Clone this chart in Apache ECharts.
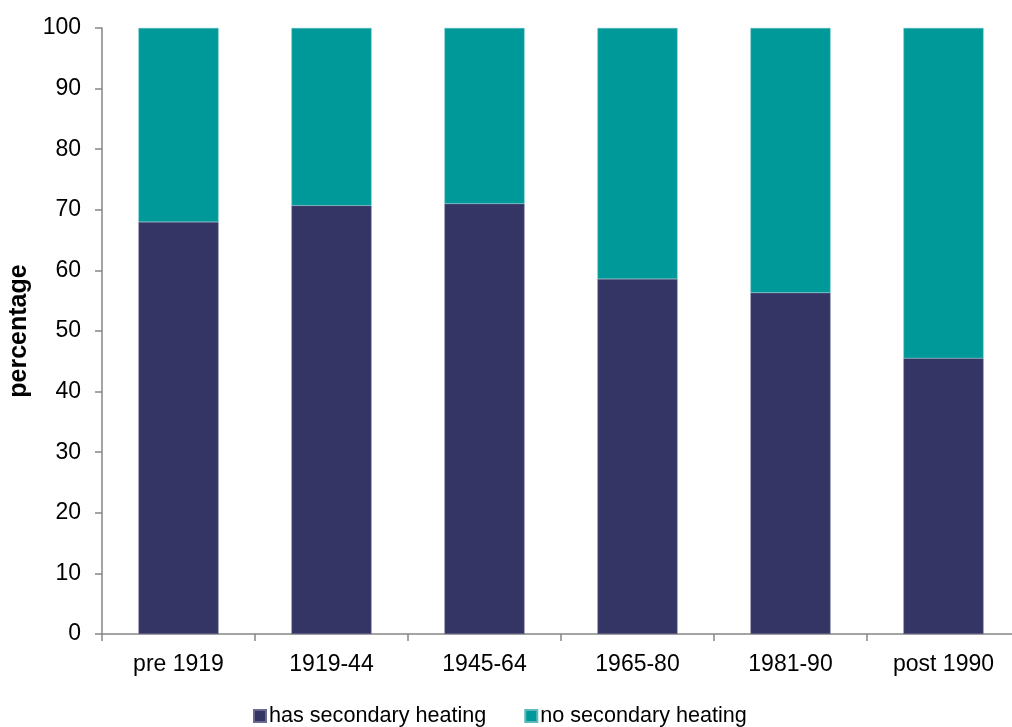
<!DOCTYPE html>
<html><head><meta charset="utf-8">
<script src="https://cdn.jsdelivr.net/npm/echarts@6/dist/echarts.min.js"></script>
<style>html,body{margin:0;padding:0;background:#fff}#c{width:1012px;height:727px}</style>
</head><body><div id="c"></div>
<script>
const categories = ['pre 1919','1919-44','1945-64','1965-80','1981-90','post 1990'];
const hasSecondary = [68.0, 70.7, 71.0, 58.6, 56.3, 45.5];
const noSecondary = [32.0, 29.3, 29.0, 41.4, 43.7, 54.5];
const yTicks = [0,10,20,30,40,50,60,70,80,90,100];
const seriesNames = ['has secondary heating','no secondary heating'];
const font = '"Liberation Sans", Arial, sans-serif';
const chart = echarts.init(document.getElementById('c'));
chart.setOption({
  animation:false,
  grid:{left:102, top:28, width:918, height:606, outerBoundsMode:'none', containLabel:false},
  legend:{bottom:-5, left:248, itemWidth:12, itemHeight:12, itemGap:38,
    icon:'rect', textStyle:{fontFamily:font, fontSize:21.6, color:'#000', padding:[0,0,0,-2]},
    data:seriesNames},
  xAxis:{type:'category', data:categories,
    axisLine:{lineStyle:{color:'#868686', width:1.5}},
    axisTick:{show:true, length:7, lineStyle:{color:'#868686', width:1.5}},
    axisLabel:{fontFamily:font, fontSize:23, color:'#000', margin:19}},
  yAxis:{type:'value', min:yTicks[0], max:yTicks[yTicks.length-1], interval:10,
    name:'percentage', nameLocation:'middle', nameGap:68,
    nameTextStyle:{fontFamily:font, fontSize:25, fontWeight:'bold', color:'#000'},
    splitLine:{show:false},
    axisLine:{show:true, lineStyle:{color:'#868686', width:1.5}},
    axisTick:{show:true, length:7, lineStyle:{color:'#868686', width:1.5}},
    axisLabel:{fontFamily:font, fontSize:23, color:'#000', margin:21}},
  series:[
    {name:seriesNames[0], type:'bar', stack:'a', data:hasSecondary, barCategoryGap:'47.7%',
      itemStyle:{color:'#343565', borderColor:'#6a6a90', borderWidth:0.5}},
    {name:seriesNames[1], type:'bar', stack:'a', data:noSecondary,
      itemStyle:{color:'#009999', borderColor:'#5fb9b9', borderWidth:0.5}}
  ]
});
</script></body></html>
